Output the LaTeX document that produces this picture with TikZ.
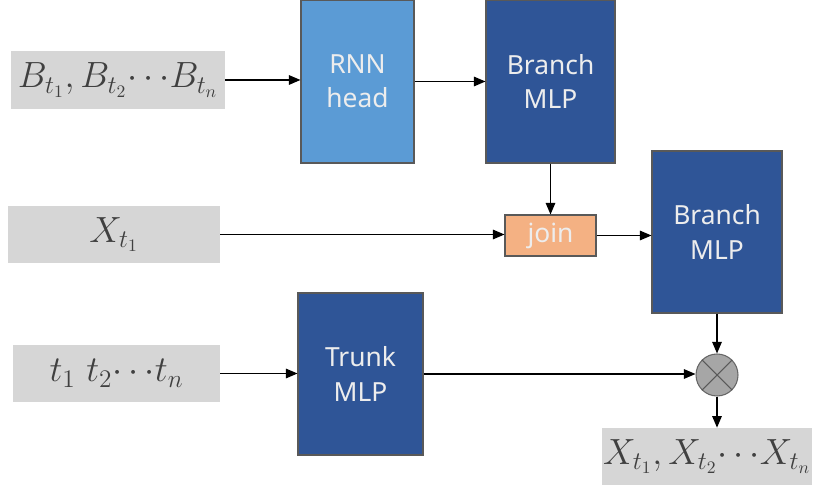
\documentclass[tikz,border=0pt]{standalone}
\usepackage{fontspec}
\setsansfont{Noto Sans}
\usetikzlibrary{arrows.meta}

\definecolor{rnnblue}{HTML}{5B9BD5}
\definecolor{mlpblue}{HTML}{2F5597}
\definecolor{joinorange}{HTML}{F4B183}
\definecolor{inputgray}{HTML}{D6D6D6}
\definecolor{textgray}{HTML}{404040}

\tikzset{
  block/.style={draw=black!65, line width=0.6pt, text=white!93!black, align=center,
    font=\sffamily\fontsize{15}{19.5}\selectfont, inner sep=0pt},
  inbox/.style={fill=inputgray, text=textgray, inner sep=0pt,
    font=\fontsize{20}{23}\selectfont},
  flow/.style={-{Triangle[length=2.3mm,width=1.9mm]}, line width=0.7pt}
}

\begin{document}
\begin{tikzpicture}
\useasboundingbox (0,0) rectangle (16.32,9.74);
% inputs
\node[inbox, minimum width=4.28cm, minimum height=1.16cm] (inB) at (2.36,8.14) {$B_{t_1},B_{t_2}\!\cdots\! B_{t_n}$};
\node[inbox, minimum width=4.24cm, minimum height=1.14cm] (inX) at (2.28,5.05) {$X_{t_1}$};
\node[inbox, minimum width=4.14cm, minimum height=1.14cm] (inT) at (2.33,2.27) {$t_1\ t_2{\cdots}t_n$};
% network blocks
\node[block, fill=rnnblue, minimum width=2.26cm, minimum height=3.26cm] (rnn) at (7.15,8.11) {RNN\\head};
\node[block, fill=mlpblue, minimum width=2.58cm, minimum height=3.26cm] (branchA) at (11.01,8.11) {Branch\\MLP};
\node[block, fill=joinorange, minimum width=1.82cm, minimum height=0.82cm] (join) at (11.01,5.03) {join};
\node[block, fill=mlpblue, minimum width=2.6cm, minimum height=3.24cm] (branchB) at (14.34,5.10) {Branch\\MLP};
\node[block, fill=mlpblue, minimum width=2.5cm, minimum height=3.24cm] (trunk) at (7.21,2.26) {Trunk\\MLP};
\node[circle, draw=black!60, fill=black!35, line width=0.6pt, minimum size=0.84cm, inner sep=0pt] (mult) at (14.34,2.24) {};
\draw[black!65, line width=0.6pt] (mult.north west) -- (mult.south east) (mult.north east) -- (mult.south west);
% output
\node[inbox, minimum width=4.2cm, minimum height=1.14cm] (out) at (14.14,0.61) {$X_{t_1},X_{t_2}\!\cdots\! X_{t_n}$};
% connections
\draw[flow] (inB.east) -- (inB.east -| rnn.west);
\draw[flow] (rnn.east) -- (branchA.west);
\draw[flow] (branchA.south) -- (join.north);
\draw[flow] (inX.east) -- (inX.east -| join.west);
\draw[flow] (join.east) -- (join.east -| branchB.west);
\draw[flow] (branchB.south) -- (mult.north);
\draw[flow] (inT.east) -- (inT.east -| trunk.west);
\draw[flow] (trunk.east) -- (trunk.east -| mult.west);
\draw[flow] (mult.south) -- (mult.south |- out.north);
\end{tikzpicture}
\end{document}
